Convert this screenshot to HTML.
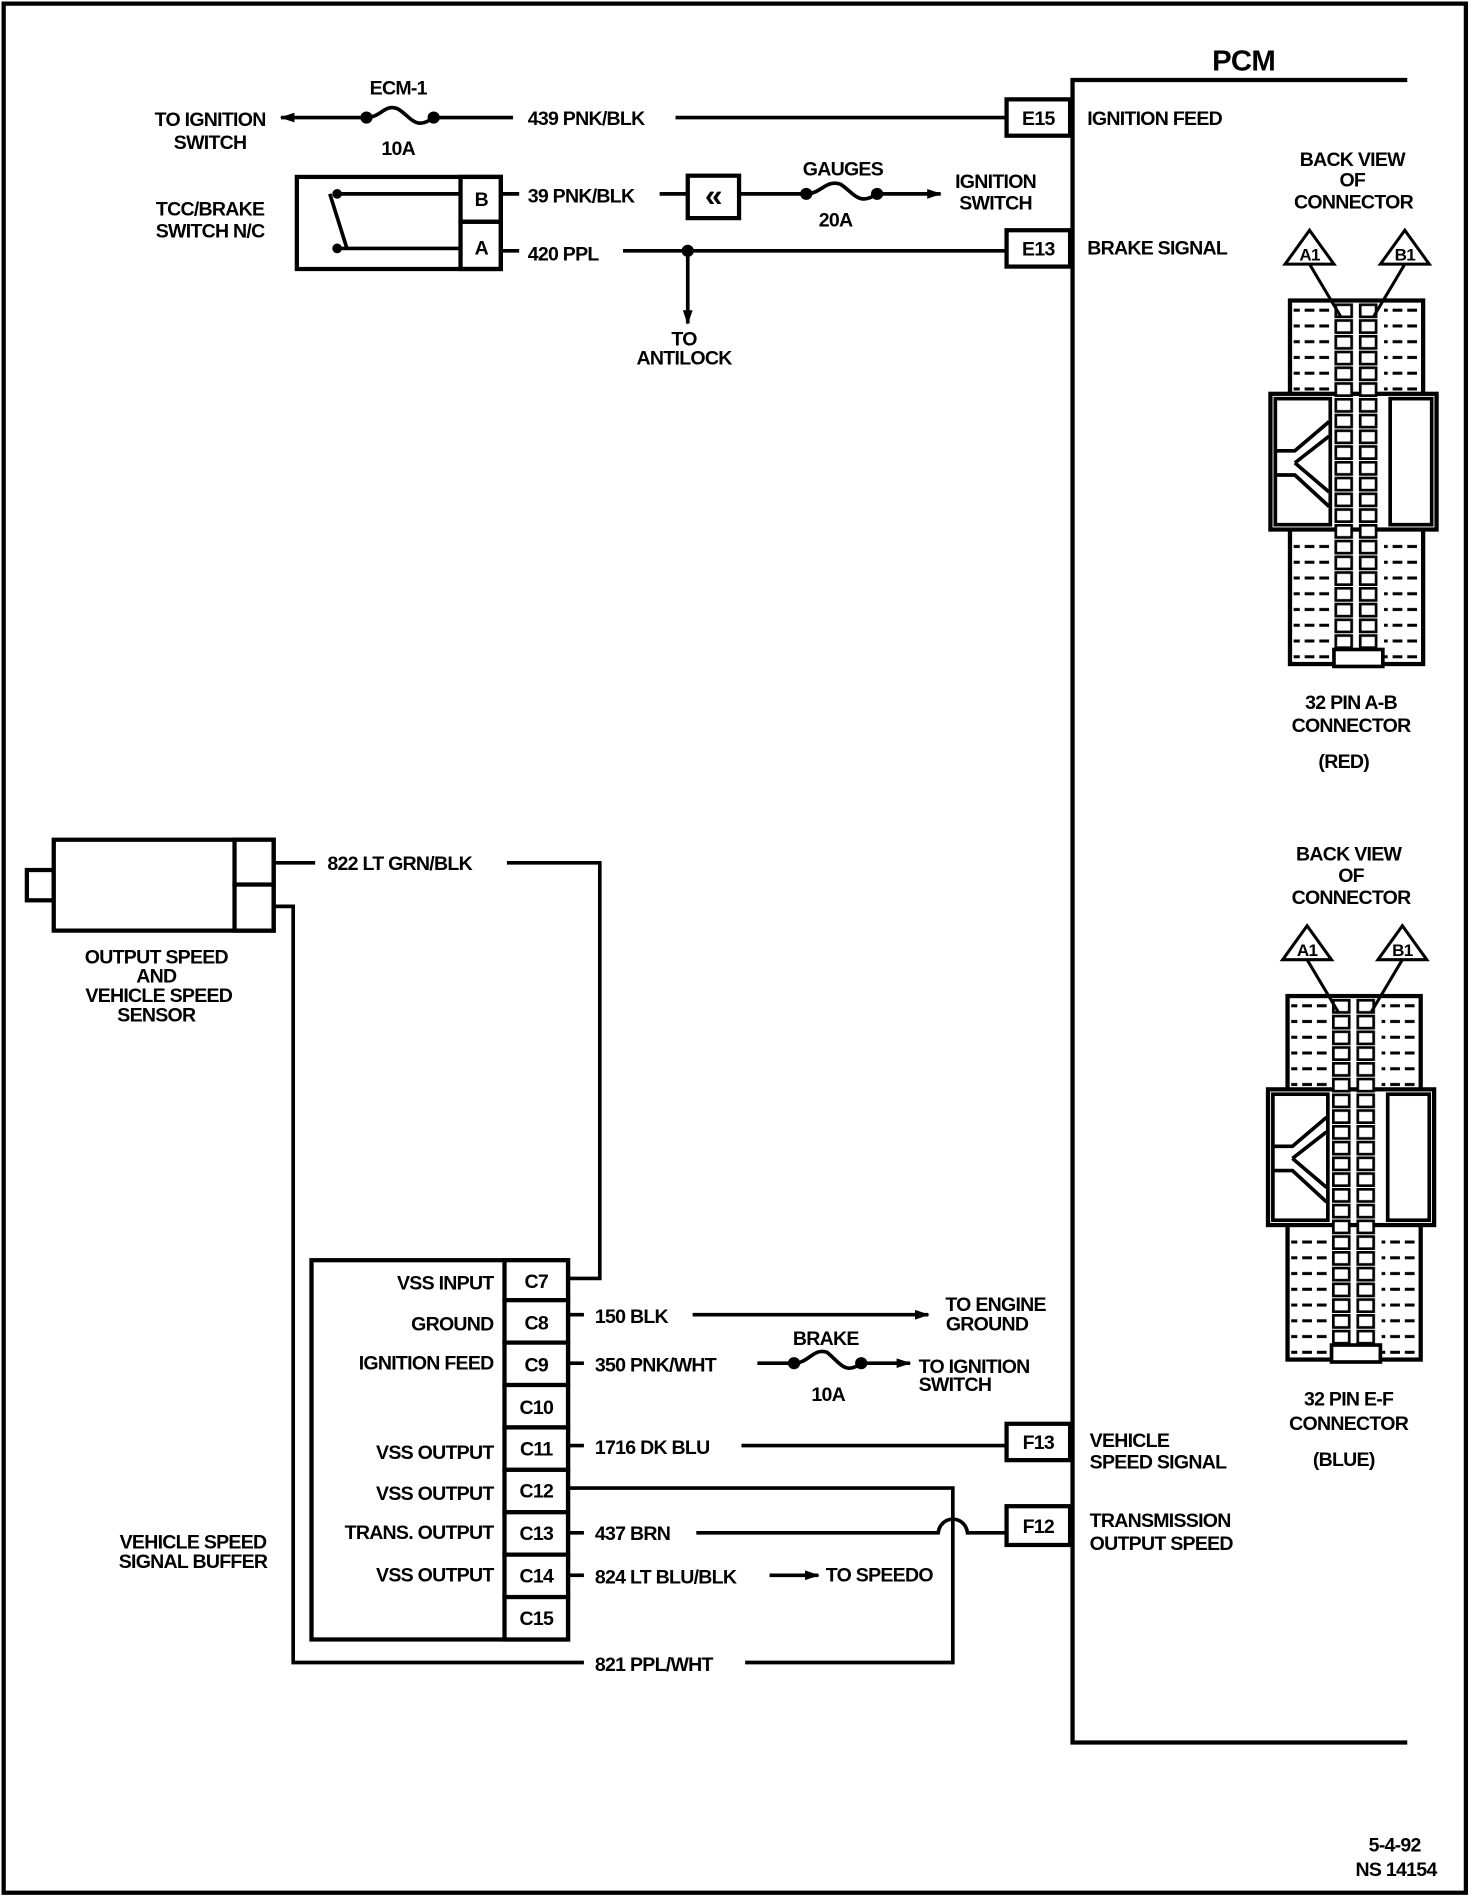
<!DOCTYPE html>
<html><head><meta charset="utf-8"><style>
html,body{margin:0;padding:0;background:#fff}
svg{display:block}
text{font-family:"Liberation Sans",sans-serif;font-weight:bold;fill:#000;letter-spacing:-0.6px}
</style></head><body>
<svg width="1472" height="1900" viewBox="0 0 1205 1568" preserveAspectRatio="none" font-size="16" xmlns="http://www.w3.org/2000/svg">
<defs>
<pattern id="pinA" x="1092" y="250" width="17" height="13" patternUnits="userSpaceOnUse">
<rect x="1.5" y="1.5" width="13" height="10" fill="#fff" stroke="#000" stroke-width="2.2"/>
</pattern>
<pattern id="pinB" x="1112" y="250" width="17" height="13" patternUnits="userSpaceOnUse">
<rect x="1.5" y="1.5" width="13" height="10" fill="#fff" stroke="#000" stroke-width="2.2"/>
</pattern>
<pattern id="dash" x="0" y="250" width="12" height="13" patternUnits="userSpaceOnUse">
<line x1="0" y1="6" x2="8" y2="6" stroke="#000" stroke-width="2.5"/>
</pattern>
<marker id="ar" markerWidth="12" markerHeight="10" refX="11" refY="5" orient="auto" markerUnits="userSpaceOnUse">
<path d="M0,1 L12,5 L0,9 Z" fill="#000"/>
</marker>
<g id="conn">
<rect x="1056" y="248" width="109" height="300" fill="#fff" stroke="#000" stroke-width="3.5"/>
<rect x="1059" y="250" width="33" height="75" fill="url(#dash)"/>
<rect x="1133" y="250" width="30" height="75" fill="url(#dash)"/>
<rect x="1059" y="440" width="33" height="105" fill="url(#dash)"/>
<rect x="1133" y="440" width="30" height="105" fill="url(#dash)"/>
<rect x="1040" y="325" width="136" height="112" fill="#fff" stroke="#000" stroke-width="3.5"/>
<rect x="1044" y="329" width="45" height="104" fill="#fff" stroke="#000" stroke-width="3"/>
<rect x="1138" y="329" width="34" height="104" fill="#fff" stroke="#000" stroke-width="3"/>
<path d="M1044,372 L1060,372 L1088,348 M1044,392 L1060,392 L1088,418 M1060,382 L1088,360 M1060,382 L1088,406" stroke="#000" stroke-width="3" fill="none"/>
<rect x="1092" y="250" width="17" height="299" fill="url(#pinA)"/>
<rect x="1112" y="250" width="17" height="299" fill="url(#pinB)"/>
<rect x="1092" y="536" width="40" height="14" fill="#fff" stroke="#000" stroke-width="3"/>
<path d="M1072,218 L1098,262 M1150,218 L1124,262" stroke="#000" stroke-width="2.5"/>
<path d="M1072,190 L1052,218 L1092,218 Z M1150,190 L1130,218 L1170,218 Z" fill="#fff" stroke="#000" stroke-width="2.5"/>
<text x="1072" y="215" text-anchor="middle" font-size="14">A1</text>
<text x="1150" y="215" text-anchor="middle" font-size="14">B1</text>
</g>
</defs>
<rect x="3" y="3" width="1197" height="1559" fill="none" stroke="#000" stroke-width="3.5"/>
<!-- PCM -->
<path d="M1152,66 L878,66 L878,1438 L1152,1438" fill="none" stroke="#000" stroke-width="3.5"/>
<text x="1018" y="58" text-anchor="middle" font-size="24">PCM</text>
<g fill="#fff" stroke="#000" stroke-width="3.5">
<rect x="824" y="82" width="52" height="30"/><rect x="824" y="190" width="52" height="30"/>
<rect x="824" y="1175" width="52" height="30"/><rect x="824" y="1243" width="52" height="32"/>
</g>
<text x="850" y="103" text-anchor="middle">E15</text>
<text x="850" y="211" text-anchor="middle">E13</text>
<text x="850" y="1196" text-anchor="middle">F13</text>
<text x="850" y="1265" text-anchor="middle">F12</text>
<text x="890" y="103">IGNITION FEED</text>
<text x="890" y="210">BRAKE SIGNAL</text>
<text x="892" y="1194">VEHICLE</text><text x="892" y="1212">SPEED SIGNAL</text>
<text x="892" y="1260">TRANSMISSION</text><text x="892" y="1279">OUTPUT SPEED</text>
<!-- connectors -->
<text x="1107" y="137" text-anchor="middle">BACK VIEW</text>
<text x="1107" y="154" text-anchor="middle">OF</text>
<text x="1108" y="172" text-anchor="middle">CONNECTOR</text>
<use href="#conn"/>
<text x="1106" y="585" text-anchor="middle">32  PIN A-B</text>
<text x="1106" y="604" text-anchor="middle">CONNECTOR</text>
<text x="1100" y="634" text-anchor="middle">(RED)</text>
<text x="1104" y="710" text-anchor="middle">BACK VIEW</text>
<text x="1106" y="728" text-anchor="middle">OF</text>
<text x="1106" y="746" text-anchor="middle">CONNECTOR</text>
<g transform="translate(-2,574)"><use href="#conn"/></g>
<text x="1104" y="1160" text-anchor="middle">32  PIN E-F</text>
<text x="1104" y="1180" text-anchor="middle">CONNECTOR</text>
<text x="1100" y="1210" text-anchor="middle">(BLUE)</text>
<!-- top wiring -->
<g stroke="#000" stroke-width="3" fill="none">
<path d="M300,97 L230,97" marker-end="url(#ar)"/>
<path d="M300,97 C312,97 315,85 326,90 C337,97 340,108 355,97"/>
<line x1="355" y1="97" x2="420" y2="97"/><line x1="553" y1="97" x2="824" y2="97"/>
<rect x="243" y="146" width="167" height="76" stroke-width="3.5"/>
<rect x="377" y="146" width="33" height="37" stroke-width="3.5"/><rect x="377" y="183" width="33" height="39" stroke-width="3.5"/>
<path d="M275,160 L377,160 M275,205 L377,205 M270,160 L284,205"/>
<line x1="410" y1="160" x2="425" y2="160"/><line x1="540" y1="160" x2="563" y2="160"/>
<rect x="563" y="145" width="42" height="35" stroke-width="3.5"/>
<line x1="605" y1="160" x2="660" y2="160"/>
<path d="M660,160 C672,160 676,148 688,152 C700,160 703,170 718,160"/>
<path d="M718,160 L770,160" marker-end="url(#ar)"/>
<line x1="410" y1="207" x2="425" y2="207"/><line x1="510" y1="207" x2="824" y2="207"/>
<path d="M563,207 L563,267" marker-end="url(#ar)"/>
</g>
<g fill="#000"><circle cx="300" cy="97" r="5"/><circle cx="355" cy="97" r="5"/><circle cx="660" cy="160" r="5"/><circle cx="718" cy="160" r="5"/><circle cx="563" cy="207" r="5"/><circle cx="276" cy="160" r="4"/><circle cx="276" cy="205" r="4"/></g>
<text x="584" y="170" text-anchor="middle" font-size="26">«</text>
<text x="326" y="78" text-anchor="middle">ECM-1</text>
<text x="326" y="128" text-anchor="middle">10A</text>
<text x="172" y="104" text-anchor="middle">TO IGNITION</text><text x="172" y="123" text-anchor="middle">SWITCH</text>
<text x="432" y="103">439 PNK/BLK</text>
<text x="172" y="178" text-anchor="middle">TCC/BRAKE</text><text x="172" y="196" text-anchor="middle">SWITCH N/C</text>
<text x="394" y="170" text-anchor="middle">B</text><text x="394" y="210" text-anchor="middle">A</text>
<text x="432" y="167">39 PNK/BLK</text>
<text x="432" y="215">420 PPL</text>
<text x="690" y="145" text-anchor="middle">GAUGES</text><text x="684" y="187" text-anchor="middle">20A</text>
<text x="815" y="155" text-anchor="middle">IGNITION</text><text x="815" y="173" text-anchor="middle">SWITCH</text>
<text x="560" y="285" text-anchor="middle">TO</text><text x="560" y="301" text-anchor="middle">ANTILOCK</text>
<!-- sensor -->
<g stroke="#000" stroke-width="3.5" fill="#fff">
<rect x="22" y="718" width="22" height="25"/>
<rect x="44" y="693" width="180" height="75"/>
<rect x="192" y="693" width="32" height="37"/><rect x="192" y="730" width="32" height="38"/>
</g>
<text x="128" y="795" text-anchor="middle">OUTPUT SPEED</text><text x="128" y="811" text-anchor="middle">AND</text>
<text x="130" y="827" text-anchor="middle">VEHICLE SPEED</text><text x="128" y="843" text-anchor="middle">SENSOR</text>
<g stroke="#000" stroke-width="3" fill="none">
<line x1="224" y1="712" x2="258" y2="712"/>
<path d="M415,712 L491,712 L491,1055 L465,1055"/>
<path d="M224,748 L240,748 L240,1372 L478,1372"/>
<path d="M610,1372 L780,1372 L780,1228 L465,1228"/>
<path d="M465,1085 L478,1085 M567,1085 L760,1085" marker-end="url(#ar)"/>
<line x1="465" y1="1125" x2="478" y2="1125"/><line x1="620" y1="1125" x2="650" y2="1125"/>
<path d="M650,1125 C662,1125 666,1112 677,1116 C688,1125 692,1135 705,1125"/>
<path d="M705,1125 L745,1125" marker-end="url(#ar)"/>
<path d="M465,1193 L478,1193 M607,1193 L824,1193"/>
<path d="M465,1265 L478,1265 M570,1265 L768,1265 C770,1250 790,1250 792,1265 L824,1265"/>
<line x1="465" y1="1300" x2="478" y2="1300"/>
<path d="M630,1300 L670,1300" marker-end="url(#ar)"/>
</g>
<g fill="#000"><circle cx="650" cy="1125" r="5"/><circle cx="705" cy="1125" r="5"/></g>
<text x="268" y="718">822 LT GRN/BLK</text>
<!-- buffer -->
<g stroke="#000" stroke-width="3.5" fill="#fff">
<rect x="255" y="1040" width="210" height="313"/>
<rect x="413" y="1040" width="52" height="33"/><rect x="413" y="1073" width="52" height="35"/>
<rect x="413" y="1108" width="52" height="35"/><rect x="413" y="1143" width="52" height="35"/>
<rect x="413" y="1178" width="52" height="35"/><rect x="413" y="1213" width="52" height="35"/>
<rect x="413" y="1248" width="52" height="35"/><rect x="413" y="1283" width="52" height="35"/>
<rect x="413" y="1318" width="52" height="35"/>
</g>
<g text-anchor="middle">
<text x="439" y="1063">C7</text><text x="439" y="1097">C8</text><text x="439" y="1132">C9</text>
<text x="439" y="1167">C10</text><text x="439" y="1201">C11</text><text x="439" y="1236">C12</text>
<text x="439" y="1271">C13</text><text x="439" y="1306">C14</text><text x="439" y="1341">C15</text>
</g>
<g text-anchor="end">
<text x="404" y="1064">VSS INPUT</text><text x="404" y="1098">GROUND</text><text x="404" y="1130">IGNITION FEED</text>
<text x="404" y="1204">VSS OUTPUT</text><text x="404" y="1238">VSS OUTPUT</text><text x="404" y="1270">TRANS. OUTPUT</text>
<text x="404" y="1305">VSS OUTPUT</text>
</g>
<text x="158" y="1278" text-anchor="middle">VEHICLE SPEED</text><text x="158" y="1294" text-anchor="middle">SIGNAL BUFFER</text>
<text x="487" y="1092">150 BLK</text>
<text x="815" y="1082" text-anchor="middle">TO ENGINE</text><text x="808" y="1098" text-anchor="middle">GROUND</text>
<text x="676" y="1110" text-anchor="middle">BRAKE</text><text x="678" y="1156" text-anchor="middle">10A</text>
<text x="487" y="1132">350 PNK/WHT</text>
<text x="752" y="1133">TO IGNITION</text><text x="752" y="1148">SWITCH</text>
<text x="487" y="1200">1716 DK BLU</text>
<text x="487" y="1271">437 BRN</text>
<text x="487" y="1307">824 LT BLU/BLK</text>
<text x="676" y="1305">TO SPEEDO</text>
<text x="487" y="1379">821 PPL/WHT</text>
<text x="1163" y="1528" text-anchor="end">5-4-92</text>
<text x="1176" y="1548" text-anchor="end">NS 14154</text>
</svg>
</body></html>
